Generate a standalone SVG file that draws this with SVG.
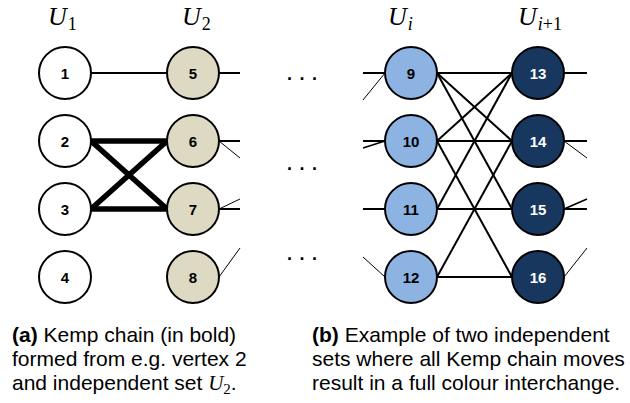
<svg xmlns="http://www.w3.org/2000/svg" width="630" height="403" viewBox="0 0 630 403">
<style>
.n circle{stroke:#000;stroke-width:2}
.w circle{fill:#fff}
.b circle{fill:#DDD9C3}
.l circle{fill:#8DB3E2}
.d circle{fill:#17375E}
.n text{font-family:"Liberation Sans",Arial,sans-serif;font-weight:bold;font-size:15px;text-anchor:middle}
.d text{fill:#fff}
.e{stroke:#000;stroke-width:2;fill:none}
.k{stroke:#000;stroke-width:5.5;fill:none}
.t{stroke:#000;stroke-width:1;fill:none}
.u{font-family:"Liberation Serif","Times New Roman",serif;font-size:26px}
.cap{font-family:"Liberation Sans",Arial,sans-serif;font-size:21px}
.dots{font-family:"Liberation Sans",Arial,sans-serif;font-size:18px;font-weight:bold;letter-spacing:7.5px}
</style>
<g id="labels">
<text class="u" x="48" y="25"><tspan font-style="italic">U</tspan><tspan font-size="18" dx="1" dy="5">1</tspan></text>
<text class="u" x="182" y="25"><tspan font-style="italic">U</tspan><tspan font-size="18" dx="1" dy="5">2</tspan></text>
<text class="u" x="388" y="25"><tspan font-style="italic">U</tspan><tspan font-size="18" font-style="italic" dx="1" dy="5">i</tspan></text>
<text class="u" x="518" y="25"><tspan font-style="italic">U</tspan><tspan font-size="18" font-style="italic" dx="1" dy="5">i</tspan><tspan font-size="18">+1</tspan></text>
</g>
<g id="connectors">
<line class="e" x1="91" y1="73" x2="167" y2="73"/>
<line class="k" x1="91" y1="141" x2="167" y2="141"/>
<line class="k" x1="91" y1="141" x2="167" y2="209"/>
<line class="k" x1="91" y1="209" x2="167" y2="141"/>
<line class="k" x1="91" y1="209" x2="167" y2="209"/>
<line class="e" x1="219" y1="73" x2="240" y2="73"/>
<line class="e" x1="219" y1="141" x2="240" y2="141"/>
<line class="e" x1="219" y1="209" x2="240" y2="209"/>
<line class="t" x1="219" y1="141" x2="240" y2="158"/>
<line class="t" x1="219" y1="209" x2="240" y2="199"/>
<line class="t" x1="219" y1="277" x2="240" y2="248"/>
<line class="e" x1="363" y1="73" x2="385" y2="73"/>
<line class="e" x1="363" y1="141" x2="385" y2="141"/>
<line class="e" x1="363" y1="209" x2="385" y2="209"/>
<line class="t" x1="363" y1="100" x2="385" y2="73"/>
<line class="e" x1="363" y1="148" x2="385" y2="141" style="stroke-width:1.5"/>
<line class="t" x1="363" y1="257" x2="385" y2="277"/>
<line class="e" x1="437" y1="73" x2="512" y2="73"/>
<line class="e" x1="437" y1="73" x2="512" y2="141"/>
<line class="e" x1="437" y1="73" x2="512" y2="209"/>
<line class="e" x1="437" y1="141" x2="512" y2="73"/>
<line class="e" x1="437" y1="141" x2="512" y2="141"/>
<line class="e" x1="437" y1="141" x2="512" y2="277"/>
<line class="e" x1="437" y1="209" x2="512" y2="73"/>
<line class="e" x1="437" y1="209" x2="512" y2="209"/>
<line class="e" x1="437" y1="277" x2="512" y2="141"/>
<line class="e" x1="437" y1="277" x2="512" y2="277"/>
<line class="e" x1="564" y1="73" x2="587" y2="73"/>
<line class="e" x1="564" y1="141" x2="587" y2="141"/>
<line class="e" x1="564" y1="209" x2="587" y2="209"/>
<line class="t" x1="564" y1="141" x2="587" y2="158"/>
<line class="e" x1="564" y1="209" x2="587" y2="199" style="stroke-width:1.5"/>
<line class="t" x1="564" y1="277" x2="587" y2="248"/>
</g>
<g id="dots">
<text class="dots" x="287" y="80">...</text>
<text class="dots" x="287" y="170">...</text>
<text class="dots" x="287" y="260">...</text>
</g>
<g id="n1" class="n w"><circle cx="65" cy="73" r="26"/><text x="65" y="78.5">1</text></g>
<g id="n2" class="n w"><circle cx="65" cy="141" r="26"/><text x="65" y="146.5">2</text></g>
<g id="n3" class="n w"><circle cx="65" cy="209" r="26"/><text x="65" y="214.5">3</text></g>
<g id="n4" class="n w"><circle cx="65" cy="277" r="26"/><text x="65" y="282.5">4</text></g>
<g id="n5" class="n b"><circle cx="193" cy="73" r="26"/><text x="193" y="78.5">5</text></g>
<g id="n6" class="n b"><circle cx="193" cy="141" r="26"/><text x="193" y="146.5">6</text></g>
<g id="n7" class="n b"><circle cx="193" cy="209" r="26"/><text x="193" y="214.5">7</text></g>
<g id="n8" class="n b"><circle cx="193" cy="277" r="26"/><text x="193" y="282.5">8</text></g>
<g id="n9" class="n l"><circle cx="411" cy="73" r="26"/><text x="411" y="78.5">9</text></g>
<g id="n10" class="n l"><circle cx="411" cy="141" r="26"/><text x="411" y="146.5">10</text></g>
<g id="n11" class="n l"><circle cx="411" cy="209" r="26"/><text x="411" y="214.5">11</text></g>
<g id="n12" class="n l"><circle cx="411" cy="277" r="26"/><text x="411" y="282.5">12</text></g>
<g id="n13" class="n d"><circle cx="538" cy="73" r="26"/><text x="538" y="78.5">13</text></g>
<g id="n14" class="n d"><circle cx="538" cy="141" r="26"/><text x="538" y="146.5">14</text></g>
<g id="n15" class="n d"><circle cx="538" cy="209" r="26"/><text x="538" y="214.5">15</text></g>
<g id="n16" class="n d"><circle cx="538" cy="277" r="26"/><text x="538" y="282.5">16</text></g>
<g id="caption-a">
<text class="cap" x="12" y="342"><tspan font-weight="bold">(a)</tspan> Kemp chain (in bold)</text>
<text class="cap" x="12" y="366">formed from e.g. vertex 2</text>
<text class="cap" x="12" y="390">and independent set <tspan font-family="Liberation Serif,Times New Roman,serif" font-style="italic">U</tspan><tspan font-family="Liberation Serif,Times New Roman,serif" font-size="15" dy="4">2</tspan><tspan dy="-4">.</tspan></text>
</g>
<g id="caption-b">
<text class="cap" x="312" y="342"><tspan font-weight="bold">(b)</tspan> Example of two independent</text>
<text class="cap" x="312" y="366">sets where all Kemp chain moves</text>
<text class="cap" x="312" y="390">result in a full colour interchange.</text>
</g>
</svg>
